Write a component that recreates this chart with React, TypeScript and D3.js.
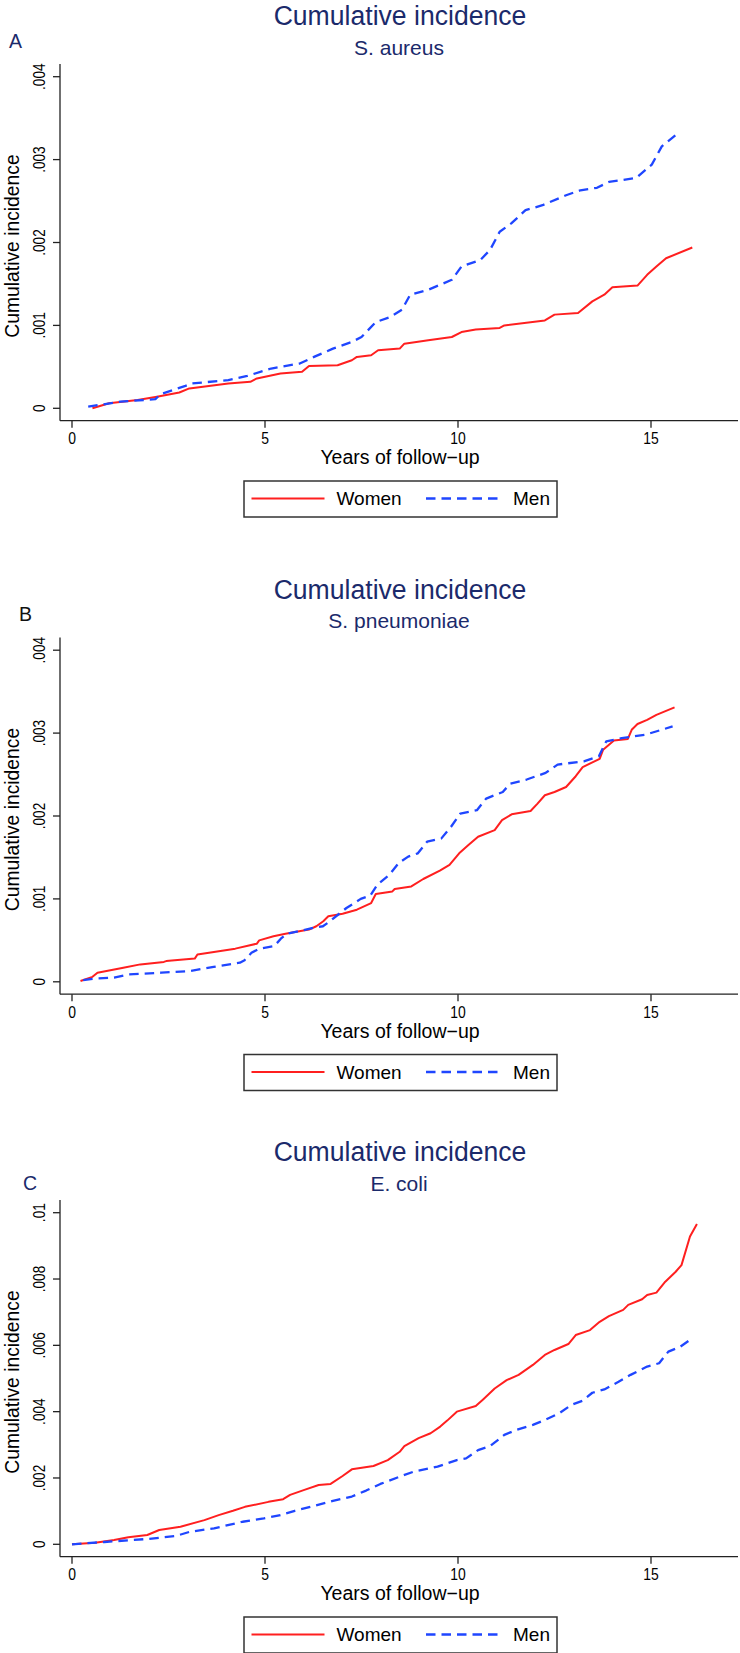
import React from "react";
import * as d3 from "d3";

// cumulative incidence, [years, value]
const aureusWomen: [number, number][] = [
  [0.53, 0], [0.96, 0.00006], [1.7, 0.0001], [2.2, 0.00014], [2.78, 0.00019], [3.04, 0.00024],
  [4.05, 0.0003], [4.62, 0.00032], [4.79, 0.00036], [5.4, 0.00042], [5.96, 0.00044], [6.14, 0.00051],
  [6.88, 0.00052], [7.25, 0.00058], [7.38, 0.00062], [7.75, 0.00064], [7.93, 0.0007], [8.49, 0.00072],
  [8.61, 0.00078], [9.23, 0.00082], [9.84, 0.00086], [10.09, 0.00092], [10.46, 0.00095], [11.08, 0.00097],
  [11.2, 0.001], [12.25, 0.00106], [12.5, 0.00113], [13.11, 0.00115], [13.48, 0.00129], [13.79, 0.00137],
  [14.0, 0.00146], [14.65, 0.00148], [14.9, 0.00161], [15.14, 0.00171], [15.39, 0.00181], [16.07, 0.00194],
];
const aureusMen: [number, number][] = [
  [0.42, 0.00002], [1.25, 0.00008], [2.16, 0.00011], [2.29, 0.00017], [2.94, 0.00027], [3.11, 0.0003],
  [4.05, 0.00034], [4.54, 0.00039], [5.16, 0.00048], [5.9, 0.00054], [6.27, 0.00062], [6.76, 0.00072],
  [7.25, 0.0008], [7.5, 0.00086], [7.87, 0.00104], [8.24, 0.0011], [8.55, 0.00119], [8.76, 0.00137],
  [9.23, 0.00143], [9.84, 0.00155], [10.09, 0.00171], [10.58, 0.00179], [10.83, 0.00191], [11.08, 0.00213],
  [11.38, 0.00223], [11.75, 0.00239], [12.19, 0.00245], [12.8, 0.00257], [13.17, 0.00263], [13.6, 0.00266],
  [13.91, 0.00273], [14.62, 0.00278], [15.02, 0.00294], [15.28, 0.00316], [15.7, 0.00332],
];
const pneumoWomen: [number, number][] = [
  [0.22, 0.00001], [0.53, 0.00006], [0.66, 0.00011], [1.33, 0.00017], [1.77, 0.00021], [2.38, 0.00024],
  [2.44, 0.00025], [3.18, 0.00028], [3.25, 0.00033], [4.23, 0.0004], [4.79, 0.00046], [4.85, 0.0005],
  [5.22, 0.00055], [5.53, 0.00058], [6.14, 0.00063], [6.33, 0.00067], [6.51, 0.00073], [6.64, 0.00079],
  [7.01, 0.00082], [7.38, 0.00087], [7.75, 0.00095], [7.87, 0.00106], [8.3, 0.00109], [8.36, 0.00112],
  [8.79, 0.00115], [9.1, 0.00124], [9.53, 0.00134], [9.78, 0.00141], [10.03, 0.00155], [10.27, 0.00165],
  [10.52, 0.00175], [10.95, 0.00183], [11.14, 0.00195], [11.39, 0.00202], [11.88, 0.00206], [12.06, 0.00215],
  [12.25, 0.00225], [12.5, 0.00229], [12.8, 0.00235], [13.05, 0.00248], [13.23, 0.00259], [13.67, 0.00269],
  [13.76, 0.0028], [14.04, 0.00291], [14.4, 0.00293], [14.5, 0.00304], [14.65, 0.00311], [14.9, 0.00316],
  [15.14, 0.00322], [15.61, 0.00331],
];
const pneumoMen: [number, number][] = [
  [0.29, 0.00002], [0.6, 0.00004], [1.09, 0.00005], [1.46, 0.00009], [2.32, 0.00011], [3.06, 0.00013],
  [3.67, 0.00018], [4.35, 0.00023], [4.47, 0.00026], [4.65, 0.00035], [4.85, 0.0004], [5.24, 0.00043],
  [5.41, 0.00052], [5.57, 0.00058], [6.25, 0.00065], [6.5, 0.00067], [6.68, 0.00073], [7.11, 0.00089],
  [7.48, 0.001], [7.73, 0.00104], [7.91, 0.00117], [8.22, 0.00129], [8.46, 0.00143], [8.71, 0.00151],
  [8.96, 0.00155], [9.2, 0.00169], [9.57, 0.00173], [9.82, 0.00187], [10.06, 0.00203], [10.49, 0.00207],
  [10.73, 0.00221], [11.16, 0.00229], [11.35, 0.00239], [11.78, 0.00244], [12.27, 0.00252], [12.58, 0.00262],
  [13.26, 0.00266], [13.65, 0.00272], [13.84, 0.0029], [14.24, 0.00294], [14.85, 0.00298], [15.56, 0.00308],
];
const coliWomen: [number, number][] = [
  [0.0, 0], [0.6, 0.00005], [1.09, 0.00013], [1.46, 0.00021], [1.95, 0.00028], [2.26, 0.00043],
  [2.81, 0.00053], [3.43, 0.00073], [3.8, 0.00088], [4.17, 0.00101], [4.48, 0.00113], [5.09, 0.00128],
  [5.47, 0.00136], [5.65, 0.00149], [6.02, 0.00164], [6.39, 0.00179], [6.7, 0.00182], [7.01, 0.00206],
  [7.25, 0.00226], [7.81, 0.00236], [8.18, 0.00254], [8.49, 0.00279], [8.61, 0.00296], [8.98, 0.0032],
  [9.29, 0.00335], [9.54, 0.00355], [9.72, 0.00373], [9.97, 0.004], [10.46, 0.00417], [10.65, 0.00437],
  [10.95, 0.0047], [11.26, 0.00495], [11.57, 0.00511], [11.94, 0.00541], [12.25, 0.00571], [12.5, 0.00586],
  [12.86, 0.00604], [13.05, 0.00631], [13.42, 0.00646], [13.67, 0.00671], [13.91, 0.00688], [14.28, 0.00707],
  [14.41, 0.00722], [14.77, 0.00739], [14.9, 0.00752], [15.14, 0.00759], [15.37, 0.00792], [15.64, 0.00822],
  [15.79, 0.00842], [16.01, 0.00928], [16.19, 0.00966],
];
const coliMen: [number, number][] = [
  [0.0, 0], [0.84, 0.00007], [1.95, 0.00016], [2.69, 0.00025], [3.06, 0.00038], [3.68, 0.00048],
  [4.42, 0.00068], [4.97, 0.00078], [5.4, 0.00088], [5.77, 0.00101], [6.27, 0.00116], [6.76, 0.00131],
  [7.25, 0.00144], [7.62, 0.00162], [7.99, 0.00182], [8.49, 0.00204], [8.85, 0.00219], [9.47, 0.00234],
  [9.97, 0.00254], [10.21, 0.00259], [10.52, 0.00284], [10.83, 0.00296], [11.2, 0.0033], [11.51, 0.00345],
  [11.94, 0.0036], [12.25, 0.00375], [12.62, 0.00395], [12.93, 0.0042], [13.23, 0.00433], [13.48, 0.00457],
  [13.79, 0.00467], [14.16, 0.0049], [14.47, 0.00511], [14.9, 0.00536], [15.21, 0.00546], [15.45, 0.00581],
  [15.76, 0.00596], [16.03, 0.00618],
];

const xTicks = [0, 5, 10, 15];
const yTicksSmall = [0, 0.001, 0.002, 0.003, 0.004];
const yTicksColi = [0, 0.002, 0.004, 0.006, 0.008, 0.01];
const panelLetters = ["A", "B", "C"];
const organisms = ["S. aureus", "S. pneumoniae", "E. coli"];
const seriesNames = ["Women", "Men"];

const NAVY = "#1b2a6b";
const RED = "#ff1f1f";
const BLUE = "#1f46ff";
const FONT = "'Liberation Sans', Arial, Helvetica, sans-serif";

const fmtTick = (v: number) => (v === 0 ? "0" : d3.format(".3~f")(v).replace(/^0/, ""));

const Txt = ({ x, y, size, sx = 1, rot = 0, anchor = "middle", fill = "#000", children }: any) => (
  <text
    transform={`translate(${x},${y}) rotate(${rot}) scale(${sx},1)`}
    fontSize={size}
    fontFamily={FONT}
    textAnchor={anchor}
    fill={fill}
  >
    {children}
  </text>
);

const Panel = ({ top, letter, letterX, letterY, letterColor, organism, women, men, yMax, yTicks }: any) => {
  const x = d3.scaleLinear().domain([0, 15]).range([72, 651]);
  const y = d3.scaleLinear().domain([0, yMax]).range([408.3, 76.7]);
  const line = d3
    .line<[number, number]>()
    .x((d) => x(d[0]))
    .y((d) => y(d[1]));
  const axisY = 420.7;
  const axisX = 60;
  return (
    <g transform={`translate(0,${top})`}>
      <Txt x={400} y={25} size={28} sx={0.95} fill={NAVY}>Cumulative incidence</Txt>
      <Txt x={399} y={54.5} size={21} fill={NAVY}>{organism}</Txt>
      <Txt x={letterX} y={letterY} size={19.5} anchor="start" fill={letterColor}>{letter}</Txt>

      {/* axes */}
      <line x1={axisX} x2={axisX} y1={64} y2={axisY} stroke="#222" strokeWidth={1.3} />
      <line x1={axisX} x2={738} y1={axisY} y2={axisY} stroke="#222" strokeWidth={1.3} />
      {yTicks.map((t: number) => (
        <g key={t}>
          <line x1={axisX - 7} x2={axisX} y1={y(t)} y2={y(t)} stroke="#222" strokeWidth={1.3} />
          <Txt x={45} y={y(t)} size={16} sx={0.85} rot={-90}>{fmtTick(t)}</Txt>
        </g>
      ))}
      {xTicks.map((t) => (
        <g key={t}>
          <line x1={x(t)} x2={x(t)} y1={axisY} y2={axisY + 7} stroke="#222" strokeWidth={1.3} />
          <Txt x={x(t)} y={444} size={16} sx={0.87}>{t}</Txt>
        </g>
      ))}
      <Txt x={19} y={246} size={19.3} rot={-90}>Cumulative incidence</Txt>
      <Txt x={400} y={464} size={19.5}>Years of follow−up</Txt>

      {/* curves */}
      <path d={line(women) || ""} fill="none" stroke={RED} strokeWidth={2} strokeLinejoin="round" />
      <path d={line(men) || ""} fill="none" stroke={BLUE} strokeWidth={2.3} strokeDasharray="9.5,6" strokeLinejoin="round" />

      {/* legend */}
      <rect x={244} y={481} width={313} height={36} fill="#fff" stroke="#333" strokeWidth={1.5} />
      <line x1={251.5} x2={324.5} y1={498.5} y2={498.5} stroke={RED} strokeWidth={2} />
      <Txt x={336.5} y={505} size={19} anchor="start">{seriesNames[0]}</Txt>
      <line x1={426} x2={498.5} y1={498.5} y2={498.5} stroke={BLUE} strokeWidth={2.3} strokeDasharray="9.5,6" />
      <Txt x={513} y={505} size={19} anchor="start">{seriesNames[1]}</Txt>
    </g>
  );
};

export default function App() {
  return (
    <svg
      width={740}
      height={1653}
      style={{ position: "absolute", left: 0, top: 0, background: "#fff", display: "block" }}
    >
      <rect width={740} height={1653} fill="#fff" />
      <Panel top={0} letter={panelLetters[0]} letterX={9} letterY={47.5} letterColor={NAVY}
        organism={organisms[0]} women={aureusWomen} men={aureusMen} yMax={0.004} yTicks={yTicksSmall} />
      <Panel top={573.5} letter={panelLetters[1]} letterX={19} letterY={47.2} letterColor="#111"
        organism={organisms[1]} women={pneumoWomen} men={pneumoMen} yMax={0.004} yTicks={yTicksSmall} />
      <Panel top={1136} letter={panelLetters[2]} letterX={23} letterY={54} letterColor={NAVY}
        organism={organisms[2]} women={coliWomen} men={coliMen} yMax={0.01} yTicks={yTicksColi} />
    </svg>
  );
}
